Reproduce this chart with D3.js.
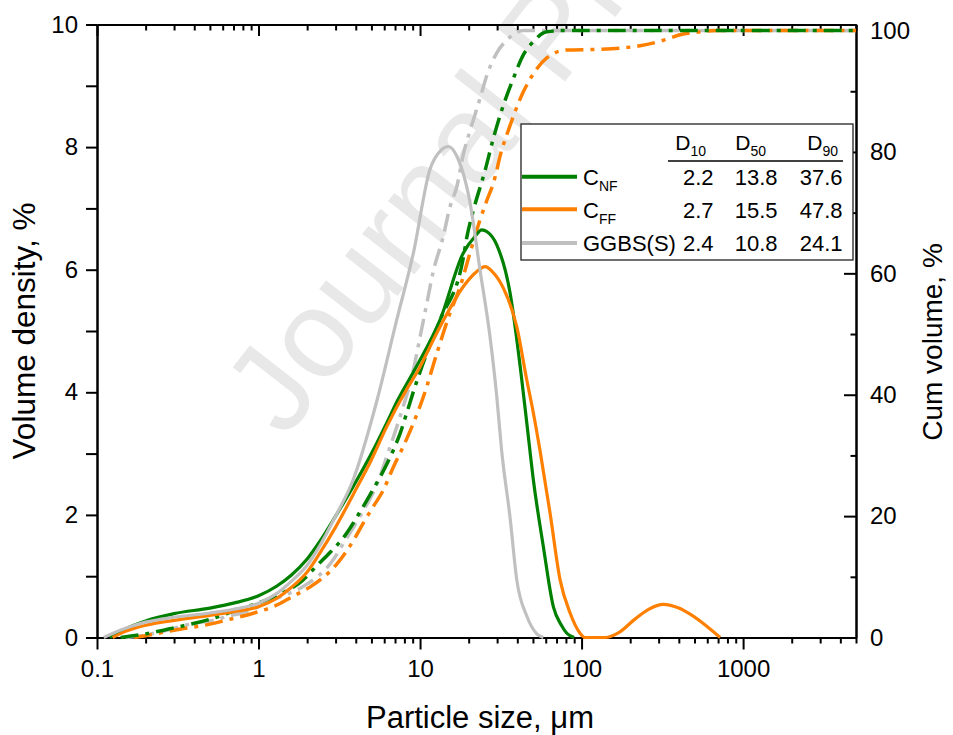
<!DOCTYPE html>
<html><head><meta charset="utf-8">
<script src="https://cdn.jsdelivr.net/npm/d3@7"></script>
<style>body{margin:0;background:#fff} svg text{font-family:"Liberation Sans",Arial,sans-serif;fill:#000}</style>
</head><body><svg id="c" width="953" height="735"></svg>
<script>
// ---------- DATA ----------
// Volume density (%), left axis
const cnfSize    = [0.12,0.15,0.2,0.3,0.5,0.7,1.0,1.3,1.6,2.0,2.4,3.0,3.85,5.0,6.22,7.2,9.5,13.3,18.5,22,24.1,26,29.8,36.1,42,45.8,50.3,58,66.9,75,81,90];
const cnfDensity = [0,0.14,0.27,0.39,0.48,0.56,0.68,0.84,1.02,1.28,1.57,1.98,2.46,3.0,3.5,3.85,4.42,5.18,6.27,6.55,6.65,6.62,6.41,5.62,4.35,3.5,2.57,1.48,0.5,0.2,0.07,0];
const cffSize    = [0.125,0.15,0.2,0.3,0.5,0.7,1.0,1.3,1.6,2.0,2.4,3.0,3.85,5.0,6.22,8.27,9.5,13.3,18.6,22,25.3,28,32.8,39.7,45.8,50,55.3,63.8,73.6,84.9,97.9,105,140,170,214,260,321,400,470,598,721];
const cffDensity = [0,0.1,0.2,0.28,0.36,0.42,0.5,0.64,0.82,1.07,1.38,1.8,2.33,2.9,3.44,4.05,4.31,5.07,5.73,5.95,6.05,5.97,5.7,5.07,4.2,3.7,3.05,2.03,0.94,0.4,0.07,0,0,0.08,0.3,0.46,0.54,0.48,0.38,0.18,0];
const ggbsSize    = [0.11,0.15,0.2,0.3,0.5,0.7,1.0,1.3,1.6,2.0,2.4,3.0,3.85,5.39,7.17,9.09,11.5,13.5,15,16.9,20.4,23.5,27.1,29.8,32,36.1,39.7,45.8,52.8,58];
const ggbsDensity = [0,0.15,0.25,0.33,0.40,0.46,0.56,0.72,0.92,1.18,1.5,1.98,2.57,3.85,5.18,6.27,7.63,7.95,8.01,7.85,7.09,6.0,4.91,3.95,3.05,1.95,0.94,0.35,0.06,0];

// Cumulative volume (%), right axis
const cnfCumSize = [0.14,0.2,0.3,0.5,0.73,1.02,1.3,1.89,2.29,2.77,3.52,4.25,4.9,6.84,7.52,8.27,9.3,11,13.3,18.6,19.5,21.4,25.3,28.4,32.8,37.8,43.6,50.3,60.9,75,5000];
const cnfCum     = [0,0.6,1.6,3.0,4.5,5.8,6.9,9.5,11.8,14.0,17.2,20.7,23.5,30.9,33.6,37.0,41.3,46.8,52.3,62.8,66.0,70.4,77.0,82.2,87.7,92.1,96.0,98.2,99.8,100,100];
const cffCumSize = [0.17,0.2,0.3,0.5,0.666,0.928,1.36,1.64,2.08,2.52,3.05,3.87,4.46,5.14,5.93,6.84,7.88,9.09,10.5,12.7,15.3,17.7,20.4,23.5,25.9,28.4,32.1,34.4,43.6,51.5,60.9,81,124,173,230,321,407,542,687,5000];
const cffCum     = [0,0.3,1.2,2.2,3.0,4.0,5.6,6.8,8.3,9.9,12.1,16.0,18.9,21.6,24.3,28.1,31.5,35.3,39.7,46.8,53.4,57.8,63.4,68.8,72.0,74.8,80.4,82.8,89.9,93.3,95.5,96.8,96.9,97.1,97.5,98.4,99.3,99.8,100,100];
const ggbsCumSize = [0.15,0.2,0.27,0.39,0.52,0.69,0.78,1.3,1.89,2.9,3.35,4.25,5.65,6.22,7.52,9.09,10.0,11.0,12.1,13.9,15.3,16.9,18.6,20.4,23.5,25.9,29.8,34.4,43.6,5000];
const ggbsCum     = [0,0.4,1.2,2.3,2.8,3.7,4.0,6.5,8.4,12.8,15.5,20.0,26.5,29.8,36.4,44.1,49.5,55.0,60.4,66.0,70.9,74.3,79.8,83.5,88.8,92.6,96.3,98.4,100,100];

// Axis ticks
const xMajorTicks = [0.1,1,10,100,1000];
const xTickLabels = ["0.1","1","10","100","1000"];
const yLeftTicks  = [0,2,4,6,8,10];
const yRightTicks = [0,20,40,60,80,100];

// Legend table
const legendNames = ["C","C","GGBS(S)"];
const legendSubs  = ["NF","FF",""];
const headerSubs  = ["10","50","90"];
const d10 = ["2.2","2.7","2.4"];
const d50 = ["13.8","15.5","10.8"];
const d90 = ["37.6","47.8","24.1"];
const colors = ["#008000","#ff8000","#c0c0c0"];

// ---------- CHART ----------
const svg = d3.select("#c");
const L=97, R=856, T=24.5, B=637.5;
const x  = d3.scaleLog().domain([0.1,5000]).range([L,R]);
const yL = d3.scaleLinear().domain([0,10]).range([B,T]);
const yR = d3.scaleLinear().domain([0,101]).range([B,T]);

// watermark (clipped to the page)
svg.append("clipPath").attr("id","page").append("rect").attr("width",953).attr("height",735);
svg.append("g").attr("clip-path","url(#page)")
  .append("text").attr("transform","translate(285,440) rotate(-52)")
  .attr("font-size",125).style("fill","#000").attr("fill-opacity",0.09)
  .text("Journal Pre-proof");

const minorX = [];
[0.1,1,10,100,1000].forEach(d=>{for(let k=2;k<=9;k++){const v=k*d; if(v<=5000) minorX.push(v);}});
const minorYL = [1,3,5,7,9];
const minorYR = [10,30,50,70,90];

function styleAxis(g){ g.selectAll("path,line").attr("stroke","#000").attr("stroke-width",2); g.selectAll("text").attr("font-size",24).style("fill","#000"); }

// bottom
svg.append("g").attr("transform",`translate(0,${B})`)
  .call(d3.axisBottom(x).tickValues(minorX).tickSize(6).tickSizeOuter(0).tickFormat("")).call(styleAxis);
svg.append("g").attr("transform",`translate(0,${B})`)
  .call(d3.axisBottom(x).tickValues(xMajorTicks).tickSize(12).tickPadding(10).tickSizeOuter(0)
    .tickFormat((d,i)=>xTickLabels[i])).call(styleAxis);
// top
svg.append("g").attr("transform",`translate(0,${T})`)
  .call(d3.axisTop(x).tickValues(minorX).tickSize(-6).tickSizeOuter(0).tickFormat("")).call(styleAxis);
svg.append("g").attr("transform",`translate(0,${T})`)
  .call(d3.axisTop(x).tickValues(xMajorTicks).tickSize(-11.5).tickSizeOuter(0).tickFormat("")).call(styleAxis);
// left
svg.append("g").attr("transform",`translate(${L},0)`)
  .call(d3.axisLeft(yL).tickValues(minorYL).tickSize(11).tickSizeOuter(0).tickFormat("")).call(styleAxis);
svg.append("g").attr("transform",`translate(${L},0)`)
  .call(d3.axisLeft(yL).tickValues(yLeftTicks).tickSize(11).tickPadding(8).tickSizeOuter(0).tickFormat(d3.format("d"))).call(styleAxis);
// right
svg.append("g").attr("transform",`translate(${R},0)`)
  .call(d3.axisRight(yR).tickValues(minorYR).tickSize(-5.5).tickSizeOuter(0).tickFormat("")).call(styleAxis);
svg.append("g").attr("transform",`translate(${R},0)`)
  .call(d3.axisRight(yR).tickValues(yRightTicks).tickSize(-12).tickPadding(14).tickSizeOuter(0).tickFormat(d3.format("d"))).call(styleAxis);

// titles
svg.append("text").attr("x",480).attr("y",728).attr("text-anchor","middle").attr("font-size",31).text("Particle size, \u03bcm");
svg.append("text").attr("transform","translate(35,331) rotate(-90)").attr("text-anchor","middle").attr("font-size",31.5).text("Volume density, %");
svg.append("text").attr("transform","translate(942,342) rotate(-90)").attr("text-anchor","middle").attr("font-size",28).text("Cum volume, %");

// curves
const zip=(a,b)=>a.map((v,i)=>[v,b[i]]);
const lineL = d3.line().x(d=>x(d[0])).y(d=>yL(d[1])).curve(d3.curveMonotoneX);
const lineR = d3.line().x(d=>x(d[0])).y(d=>yR(d[1])).curve(d3.curveMonotoneX);
const cum = [[ggbsCumSize,ggbsCum,2],[cffCumSize,cffCum,1],[cnfCumSize,cnfCum,0]];
cum.forEach(([s,v,c])=>{
  svg.append("path").attr("d",lineR(zip(s,v))).attr("fill","none").attr("stroke",colors[c])
    .attr("stroke-width",3.5).attr("stroke-dasharray","18,7,4,7");
});
const dens = [[cnfSize,cnfDensity,0],[cffSize,cffDensity,1],[ggbsSize,ggbsDensity,2]];
dens.forEach(([s,v,c])=>{
  svg.append("path").attr("d",lineL(zip(s,v))).attr("fill","none").attr("stroke",colors[c])
    .attr("stroke-width",3.2).attr("stroke-linejoin","round");
});

// legend
const lg = svg.append("g");
lg.append("rect").attr("x",521).attr("y",124).attr("width",332).attr("height",136)
  .attr("fill","#fff").attr("stroke","#222").attr("stroke-width",1.3);
const headerRight = [706,766,838];
headerSubs.forEach((s,i)=>{
  const t = lg.append("text").attr("x",headerRight[i]).attr("y",149.5).attr("text-anchor","end").attr("font-size",21);
  t.append("tspan").text("D");
  t.append("tspan").attr("font-size",14).attr("dy",6).text(s);
});
lg.append("line").attr("x1",668).attr("x2",843).attr("y1",161).attr("y2",161).attr("stroke","#000").attr("stroke-width",1.5);
const rowY = [184.5,217.5,251];
const lineY = [176.7,209.3,243];
const colRight = [713.5,777.5,842.5];
legendNames.forEach((n,i)=>{
  lg.append("line").attr("x1",522).attr("x2",577).attr("y1",lineY[i]).attr("y2",lineY[i])
    .attr("stroke",colors[i]).attr("stroke-width",4);
  const t = lg.append("text").attr("x",583).attr("y",rowY[i]).attr("font-size",22);
  t.append("tspan").text(n);
  if(legendSubs[i]) t.append("tspan").attr("font-size",14).attr("dy",6).text(legendSubs[i]);
  [d10,d50,d90].forEach((col,j)=>{
    lg.append("text").attr("x",colRight[j]).attr("y",rowY[i]).attr("text-anchor","end").attr("font-size",22).text(col[i]);
  });
});
</script></body></html>
